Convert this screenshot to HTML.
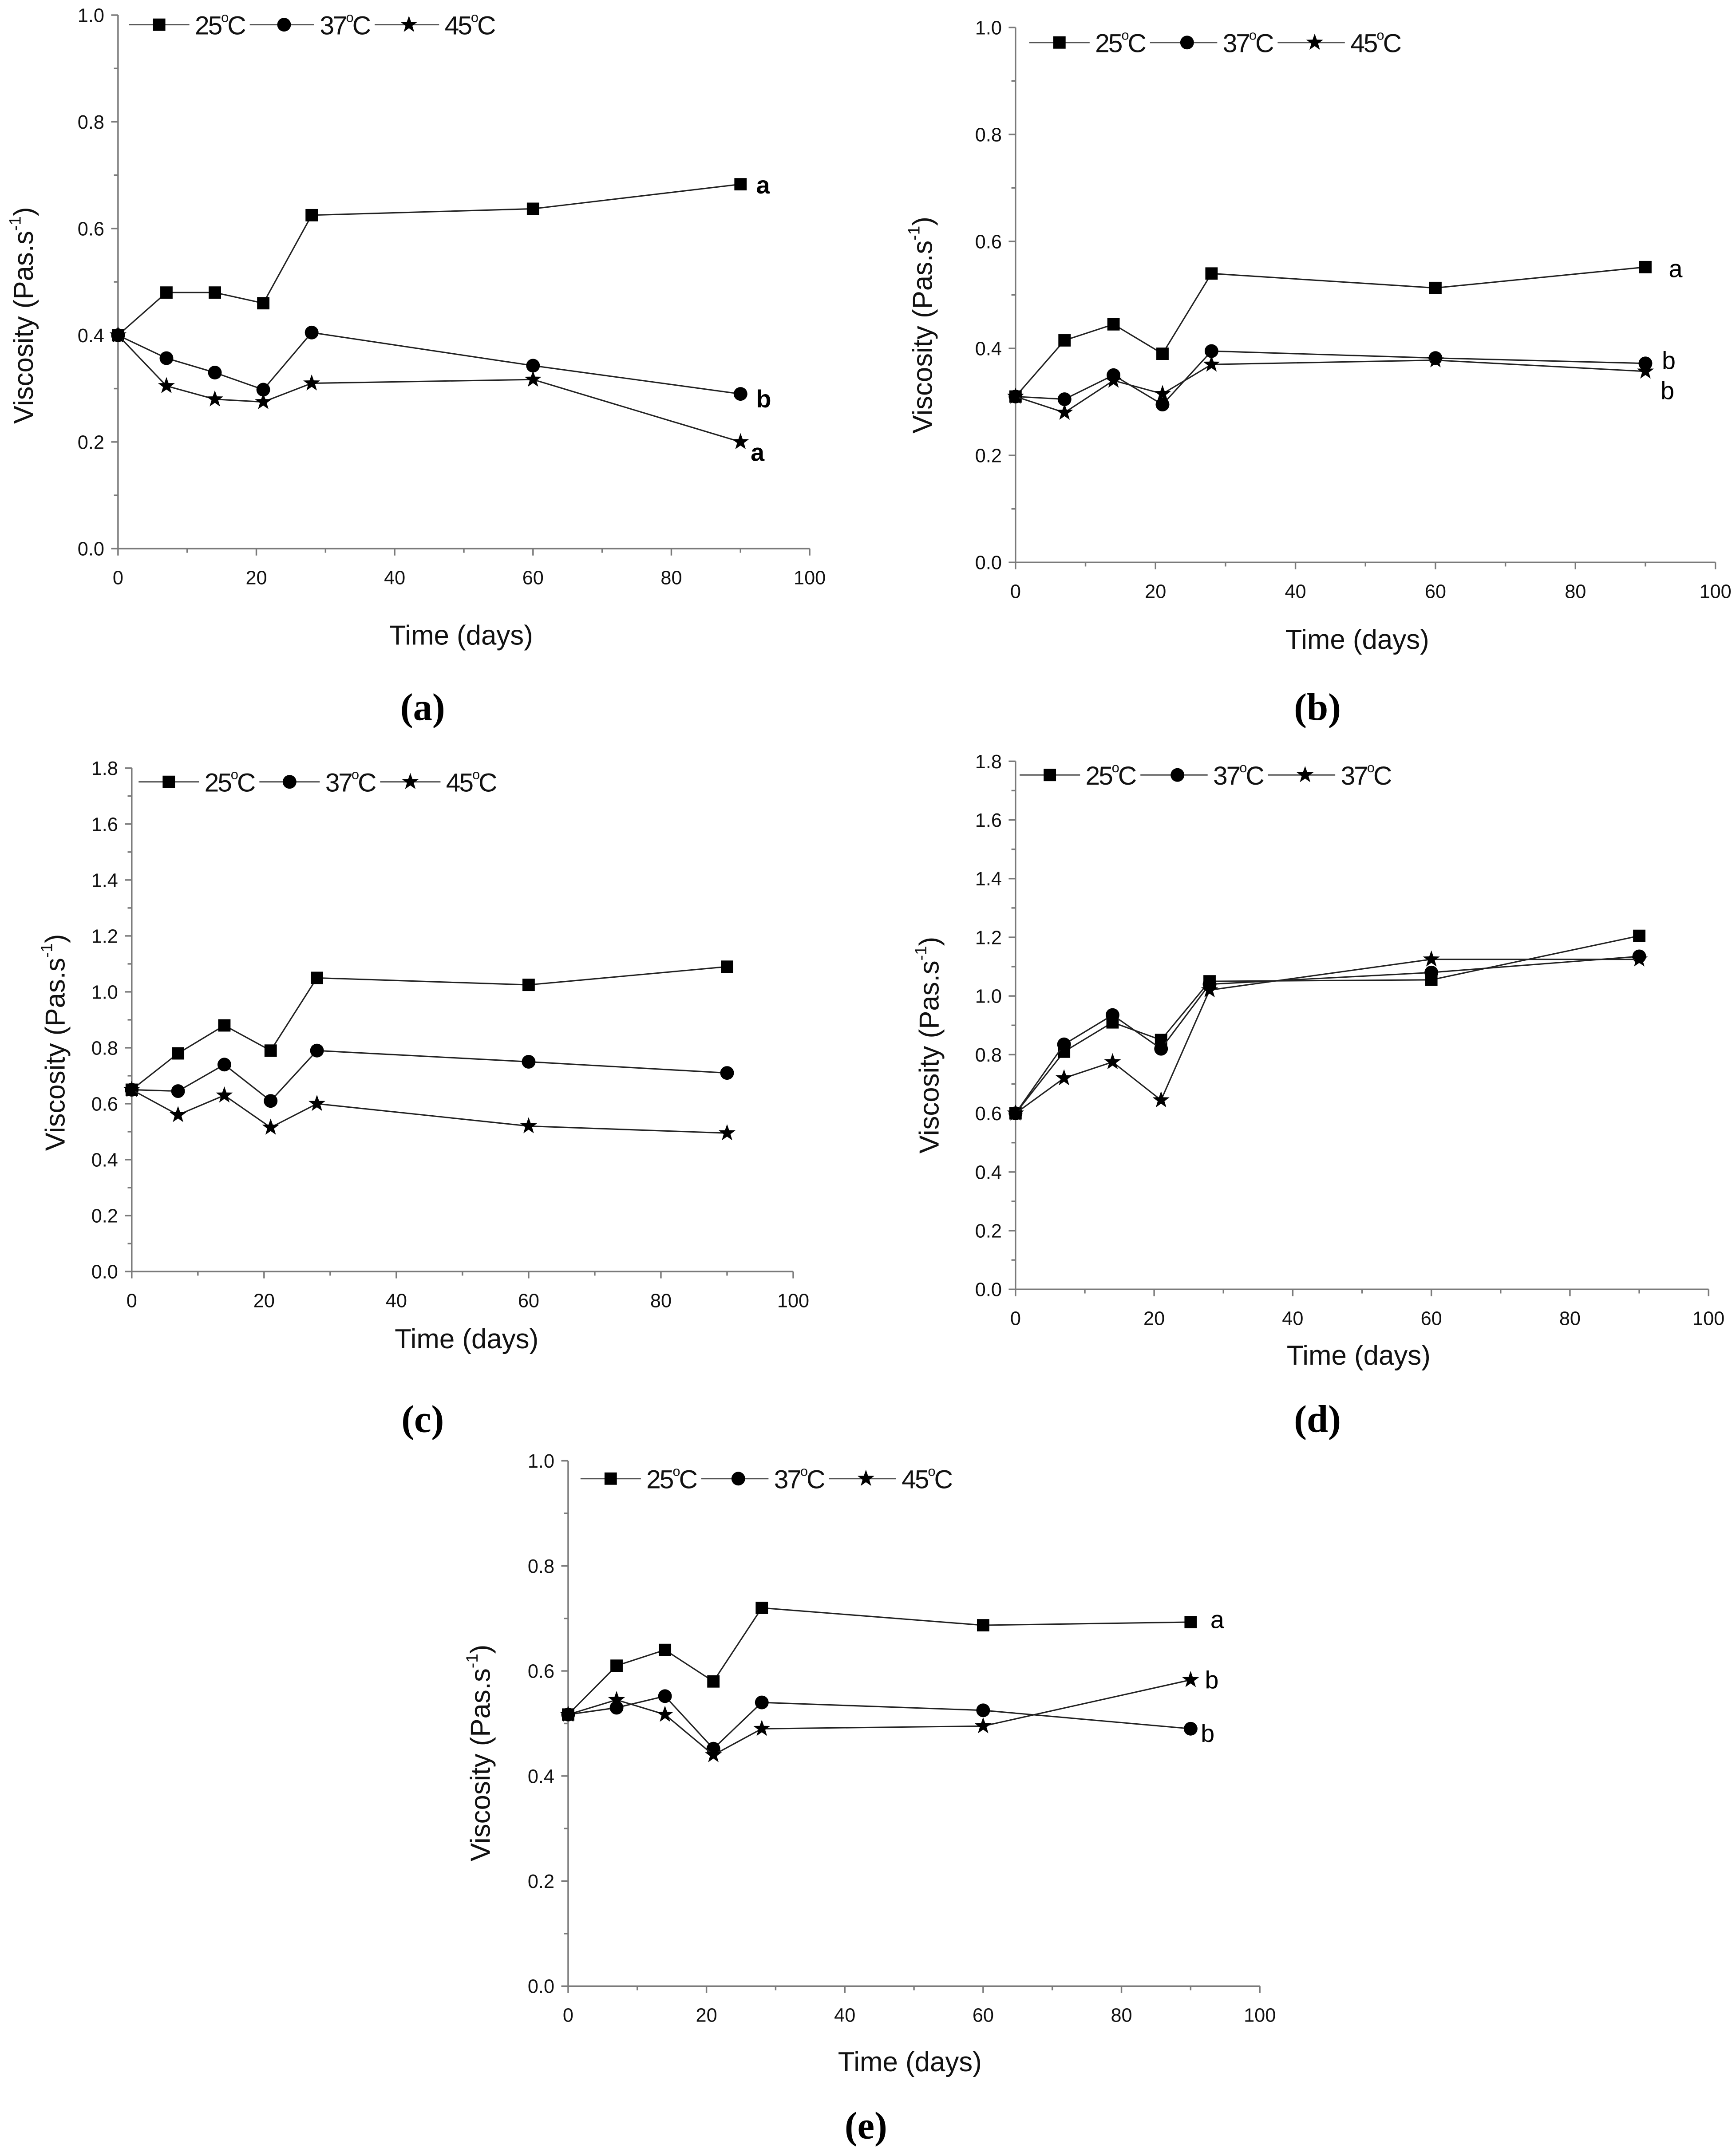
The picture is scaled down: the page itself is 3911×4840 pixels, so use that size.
<!DOCTYPE html>
<html><head><meta charset="utf-8"><style>
html,body{margin:0;padding:0;background:#fff;}
svg{display:block;}
text{font-family:"Liberation Sans",Arial,sans-serif;}
</style></head><body>
<svg id="fig" width="3911" height="4840" viewBox="0 0 1265 1566" preserveAspectRatio="none" xmlns="http://www.w3.org/2000/svg"></svg>
<script>
const days = [0, 7, 14, 21, 28, 60, 90];
const aS25 = [0.40, 0.48, 0.48, 0.46, 0.625, 0.637, 0.683];
const aS37 = [0.40, 0.357, 0.33, 0.298, 0.405, 0.343, 0.29];
const aS45 = [0.40, 0.305, 0.28, 0.275, 0.31, 0.317, 0.20];
const bS25 = [0.31, 0.415, 0.445, 0.39, 0.54, 0.513, 0.552];
const bS37 = [0.31, 0.305, 0.35, 0.295, 0.395, 0.382, 0.372];
const bS45 = [0.31, 0.28, 0.34, 0.315, 0.37, 0.378, 0.357];
const cS25 = [0.65, 0.78, 0.88, 0.79, 1.05, 1.025, 1.09];
const cS37 = [0.65, 0.645, 0.74, 0.61, 0.79, 0.75, 0.71];
const cS45 = [0.65, 0.56, 0.63, 0.515, 0.60, 0.52, 0.495];
const dS25 = [0.60, 0.81, 0.91, 0.85, 1.05, 1.055, 1.205];
const dS37 = [0.60, 0.835, 0.935, 0.82, 1.04, 1.08, 1.135];
const dS45 = [0.60, 0.72, 0.775, 0.645, 1.02, 1.125, 1.125];
const eS25 = [0.517, 0.61, 0.64, 0.58, 0.72, 0.687, 0.693];
const eS37 = [0.517, 0.53, 0.552, 0.452, 0.54, 0.525, 0.49];
const eS45 = [0.517, 0.545, 0.517, 0.44, 0.49, 0.495, 0.583];
const xTicks = [0, 20, 40, 60, 80, 100];
const yTicks1 = [0.0, 0.2, 0.4, 0.6, 0.8, 1.0];
const yTicks18 = [0.0, 0.2, 0.4, 0.6, 0.8, 1.0, 1.2, 1.4, 1.6, 1.8];
const legendA = ["25", "37", "45"];
const legendD = ["25", "37", "37"];

const NS = "http://www.w3.org/2000/svg";
const svg = document.getElementById("fig");
function el(tag, attrs, parent) {
  const e = document.createElementNS(NS, tag);
  for (const k in attrs) e.setAttribute(k, attrs[k]);
  (parent || svg).appendChild(e);
  return e;
}
function marker(g, type, x, y) {
  let m;
  if (type === 0) m = el("rect", {x: x - 4.5, y: y - 4.5, width: 9, height: 9, fill: "#000"}, g);
  else if (type === 1) m = el("circle", {cx: x, cy: y, r: 5, fill: "#000"}, g);
  else {
    let p = [];
    for (let i = 0; i < 10; i++) {
      const r = i % 2 ? 2.6 : 6.5, a = -Math.PI / 2 + i * Math.PI / 5;
      p.push((x + r * Math.cos(a)).toFixed(2) + "," + (y + r * Math.sin(a)).toFixed(2));
    }
    m = el("polygon", {points: p.join(" "), fill: "#000"}, g);
  }
  return m;
}
function panel(cfg) {
  const g = el("g", {});
  
  
  const X = v => cfg.x0 + (cfg.x1 - cfg.x0) * v / 100;
  const Y = v => cfg.y0 - (cfg.y0 - cfg.y1) * v / cfg.ymax;
  const ax = el("g", {stroke: "#7a7a7a", "stroke-width": 1.1}, g);
  
  
  el("line", {x1: cfg.x0, y1: cfg.y0, x2: cfg.x1, y2: cfg.y0}, ax);
  el("line", {x1: cfg.x0, y1: cfg.y0, x2: cfg.x0, y2: cfg.y1}, ax);
  for (let v = 0; v <= 100; v += 10) {
    el("line", {x1: X(v), y1: cfg.y0, x2: X(v), y2: cfg.y0 + (v % 20 ? 3 : 5)}, ax);
  }
  xTicks.forEach(v => {
    const t = el("text", {x: X(v), y: cfg.y0 + 26, "font-size": 14, "text-anchor": "middle", fill: "#111"}, g);
    
    
    t.textContent = v;
  });
  const yt = cfg.ymax > 1 ? yTicks18 : yTicks1;
  for (let i = 0; i < yt.length; i++) {
    el("line", {x1: cfg.x0, y1: Y(yt[i]), x2: cfg.x0 - 5, y2: Y(yt[i])}, ax);
    if (i < yt.length - 1) {
      const mid = (yt[i] + yt[i + 1]) / 2;
      el("line", {x1: cfg.x0, y1: Y(mid), x2: cfg.x0 - 3, y2: Y(mid)}, ax);
    }
    const t = el("text", {x: cfg.x0 - 10, y: Y(yt[i]) + 5, "font-size": 14, "text-anchor": "end", fill: "#111"}, g);
    
    
    t.textContent = yt[i].toFixed(1);
  }
  cfg.series.forEach((s, k) => {
    const sg = el("g", {}, g);
    
    
    const pts = days.map((d, i) => X(d).toFixed(2) + "," + Y(s[i]).toFixed(2)).join(" ");
    const pl = el("polyline", {points: pts, fill: "none", stroke: "#222", "stroke-width": 1}, sg);
    
    
    days.forEach((d, i) => {
      const m = marker(sg, k, X(d), Y(s[i]));
      
      
    });
  });
  const lg = el("g", {}, g);
  
  
  const L = cfg.legend;
  el("line", {x1: L.x - 22, y1: L.y, x2: L.x + L.step * 2 + 22, y2: L.y, stroke: "#555", "stroke-width": 1}, lg);
  for (let k = 0; k < 3; k++) {
    const mx = L.x + L.step * k;
    el("rect", {x: mx + 22, y: L.y - 11, width: 44, height: 22, fill: "#fff"}, lg);
    const m = marker(lg, k, mx, L.y);
    
    
    const t = el("text", {x: mx + 26, y: L.y + 7, "font-size": 19, fill: "#111", "letter-spacing": -1}, lg);
    
    
    t.innerHTML = cfg.leg[k] + '<tspan font-size="10" dy="-9">o</tspan><tspan dy="9">C</tspan>';
  }
  const yt2 = el("text", {x: 0, y: 0, "font-size": 20, "text-anchor": "middle", fill: "#111",
    transform: "translate(" + cfg.ytx + "," + cfg.yty + ") rotate(-90)"}, g);
  
  
  yt2.innerHTML = 'Viscosity (Pas.s<tspan font-size="12" dy="-9">-1</tspan><tspan dy="9">)</tspan>';
  const xt = el("text", {x: cfg.xtx, y: cfg.xty, "font-size": 20, "text-anchor": "middle", fill: "#111", "xml:space": "preserve"}, g);
  
  
  xt.textContent = cfg.xtitle;
  const pl = el("text", {x: cfg.plx, y: cfg.ply, "font-size": 28, "font-weight": "bold", "text-anchor": "middle", fill: "#000",
    style: "font-family:'Liberation Serif','Times New Roman',serif"}, g);
  
  
  pl.textContent = "(" + cfg.id + ")";
  (cfg.letters || []).forEach(l => {
    const t = el("text", {x: l[0], y: l[1], "font-size": 18, "font-weight": cfg.boldLetters ? "bold" : "normal", fill: "#000"}, g);
    
    
    t.textContent = l[2];
  });
}
panel({id: "a", x0: 86, x1: 590, y0: 400, y1: 11, ymax: 1.0, series: [aS25, aS37, aS45], leg: legendA,
  legend: {x: 116, y: 18, step: 91}, ytx: 24, yty: 230, xtx: 336, xty: 470, xtitle: "Time (days)", plx: 308, ply: 525,
  boldLetters: true, letters: [[551, 141, "a"], [551, 297, "b"], [547, 336, "a"]]});
panel({id: "b", x0: 740, x1: 1250, y0: 410, y1: 20, ymax: 1.0, series: [bS25, bS37, bS45], leg: legendA,
  legend: {x: 772, y: 31, step: 93}, ytx: 679, yty: 237, xtx: 989, xty: 473, xtitle: "Time (days)", plx: 960, ply: 525,
  letters: [[1216, 202, "a"], [1211, 269, "b"], [1210, 291, "b"]]});
panel({id: "c", x0: 96, x1: 578, y0: 927, y1: 560, ymax: 1.8, series: [cS25, cS37, cS45], leg: legendA,
  legend: {x: 123, y: 570, step: 88}, ytx: 47, yty: 760, xtx: 340, xty: 983, xtitle: "Time (days)", plx: 308, ply: 1044});
panel({id: "d", x0: 740, x1: 1245, y0: 940, y1: 555, ymax: 1.8, series: [dS25, dS37, dS45], leg: legendD,
  legend: {x: 765, y: 565, step: 93}, ytx: 684, yty: 762, xtx: 990, xty: 995, xtitle: "Time (days)", plx: 960, ply: 1044});
panel({id: "e", x0: 414, x1: 918, y0: 1448, y1: 1065, ymax: 1.0, series: [eS25, eS37, eS45], leg: legendA,
  legend: {x: 445, y: 1078, step: 93}, ytx: 357, yty: 1278, xtx: 663, xty: 1510, xtitle: "Time  (days)", plx: 631, ply: 1559,
  letters: [[882, 1187, "a"], [878, 1231, "b"], [875, 1270, "b"]]});
</script>
</body></html>
